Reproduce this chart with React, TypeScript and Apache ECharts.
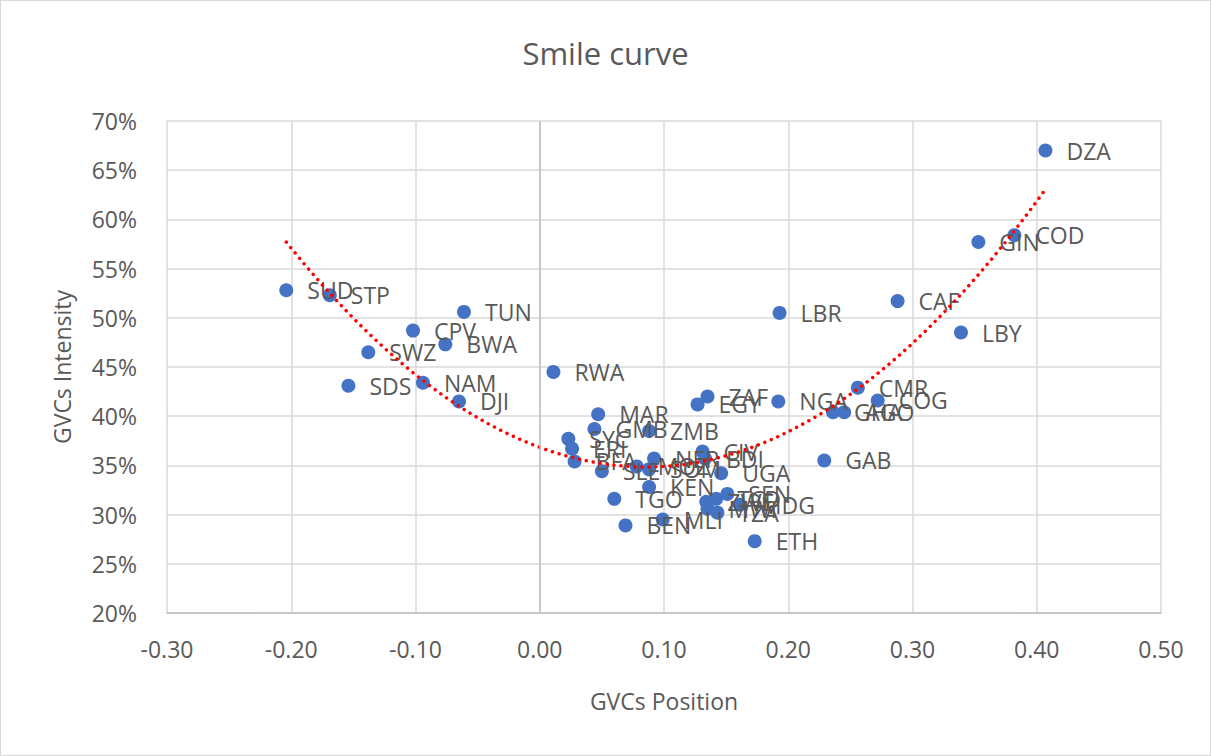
import React, { useEffect, useRef } from "react";
import * as echarts from "echarts";

const countries = [
  "SUD", "STP", "TUN", "CPV", "BWA", "SWZ", "SDS", "NAM", "DJI", "RWA",
  "MAR", "GMB", "SYC", "ERI", "BFA", "SLE", "ZMB", "MOZ", "SOM", "NER",
  "KEN", "TGO", "BEN", "MLI", "CIV", "BDI", "UGA", "EGY", "ZAF", "SEN",
  "ZWE", "TCD", "MWI", "MDG", "TZA", "ETH", "NGA", "LBR", "GAB", "GHA",
  "AGO", "CMR", "COG", "CAF", "LBY", "GIN", "COD", "DZA",
];
const gvcPosition = [
  -0.204, -0.169, -0.061, -0.102, -0.076, -0.138, -0.154, -0.094, -0.065, 0.011,
  0.047, 0.044, 0.023, 0.026, 0.028, 0.050, 0.088, 0.078, 0.088, 0.092,
  0.088, 0.060, 0.069, 0.099, 0.131, 0.133, 0.146, 0.127, 0.135, 0.151,
  0.134, 0.142, 0.135, 0.161, 0.143, 0.173, 0.192, 0.193, 0.229, 0.236,
  0.245, 0.256, 0.272, 0.288, 0.339, 0.353, 0.382, 0.407,
];
const gvcIntensity = [
  0.528, 0.523, 0.506, 0.487, 0.473, 0.465, 0.431, 0.434, 0.415, 0.445,
  0.402, 0.387, 0.377, 0.367, 0.354, 0.344, 0.385, 0.349, 0.346, 0.357,
  0.328, 0.316, 0.289, 0.295, 0.364, 0.357, 0.342, 0.412, 0.420, 0.321,
  0.313, 0.316, 0.306, 0.310, 0.302, 0.273, 0.415, 0.505, 0.355, 0.404,
  0.404, 0.429, 0.416, 0.517, 0.485, 0.577, 0.584, 0.670,
];

const title = "Smile curve";
const xName = "GVCs Position";
const yName = "GVCs Intensity";

// Least-squares quadratic trendline (as Excel's polynomial order 2 trendline)
function fitQuadratic(xs: number[], ys: number[]) {
  let s0 = 0, s1 = 0, s2 = 0, s3 = 0, s4 = 0, t0 = 0, t1 = 0, t2 = 0;
  for (let i = 0; i < xs.length; i++) {
    const x = xs[i], y = ys[i];
    s0 += 1; s1 += x; s2 += x * x; s3 += x * x * x; s4 += x * x * x * x;
    t0 += y; t1 += x * y; t2 += x * x * y;
  }
  const det = (m: number[][]) =>
    m[0][0] * (m[1][1] * m[2][2] - m[1][2] * m[2][1]) -
    m[0][1] * (m[1][0] * m[2][2] - m[1][2] * m[2][0]) +
    m[0][2] * (m[1][0] * m[2][1] - m[1][1] * m[2][0]);
  const A = [[s4, s3, s2], [s3, s2, s1], [s2, s1, s0]];
  const B = [t2, t1, t0];
  const D = det(A);
  const col = (k: number) => A.map((row, r) => row.map((v, c) => (c === k ? B[r] : v)));
  return [det(col(0)) / D, det(col(1)) / D, det(col(2)) / D];
}

export default function App() {
  const ref = useRef<HTMLDivElement>(null);
  useEffect(() => {
    document.body.style.margin = "0";
    if (!ref.current) return;
    const chart = echarts.init(ref.current, null, { renderer: "svg" });
    const [a, b, c] = fitQuadratic(gvcPosition, gvcIntensity);
    const xmin = Math.min(...gvcPosition);
    const xmax = Math.max(...gvcPosition);
    const trend: number[][] = [];
    const steps = 150;
    for (let i = 0; i <= steps; i++) {
      const x = xmin + ((xmax - xmin) * i) / steps;
      trend.push([x, a * x * x + b * x + c]);
    }
    const pts = countries.map((n, i) => ({ name: n, value: [gvcPosition[i], gvcIntensity[i]] }));
    const font = "'Open Sans', 'Noto Sans', sans-serif";
    const txt = "#595959";
    chart.setOption({
      animation: false,
      backgroundColor: "#ffffff",
      title: {
        text: title,
        left: "center",
        top: 31,
        textStyle: { fontFamily: font, fontSize: 31, fontWeight: "normal", color: txt },
      },
      grid: { left: 166, top: 120, width: 994, height: 492 },
      xAxis: {
        type: "value",
        min: -0.3,
        max: 0.5,
        interval: 0.1,
        name: xName,
        nameLocation: "middle",
        nameGap: 76,
        nameTextStyle: { fontFamily: font, fontSize: 23, color: txt },
        axisLine: { show: true, onZero: false, lineStyle: { color: "#bfbfbf", width: 1.5 } },
        axisTick: { show: false },
        axisLabel: {
          fontFamily: font, fontSize: 23, color: txt, margin: 24,
          formatter: (v: number) => (Math.abs(v) < 1e-9 ? 0 : v).toFixed(2),
        },
        splitLine: { show: true, lineStyle: { color: "#d9d9d9", width: 1.5 } },
      },
      yAxis: {
        type: "value",
        min: 0.2,
        max: 0.7,
        interval: 0.05,
        name: yName,
        nameLocation: "middle",
        nameGap: 94,
        nameTextStyle: { fontFamily: font, fontSize: 23, color: txt },
        axisLine: { show: false },
        axisTick: { show: false },
        axisLabel: {
          fontFamily: font, fontSize: 23, color: txt, margin: 30,
          formatter: (v: number) => Math.round(v * 100) + "%",
        },
        splitLine: { show: true, lineStyle: { color: "#d9d9d9", width: 1.5 } },
      },
      series: [
        {
          type: "scatter",
          data: pts,
          symbol: "circle",
          symbolSize: 14,
          itemStyle: { color: "#4472c4", opacity: 1 },
          label: {
            show: true,
            position: "right",
            distance: 14,
            formatter: (p: any) => p.name,
            fontFamily: font,
            fontSize: 23,
            color: txt,
          },
          labelLayout: { hideOverlap: false },
          markLine: {
            silent: true,
            symbol: "none",
            label: { show: false },
            lineStyle: { color: "#bfbfbf", type: "solid", width: 1.5 },
            data: [{ xAxis: 0 }],
          },
          z: 3,
        },
        {
          type: "line",
          data: trend,
          showSymbol: false,
          symbol: "none",
          smooth: false,
          lineStyle: { color: "#ff0000", width: 3.5, type: [0.01, 7], cap: "round" },
          z: 4,
          silent: true,
        },
      ],
    });
    return () => chart.dispose();
  }, []);
  return (
    <div
      ref={ref}
      style={{ width: 1211, height: 756, border: "1px solid #d9d9d9", boxSizing: "border-box" }}
    />
  );
}
